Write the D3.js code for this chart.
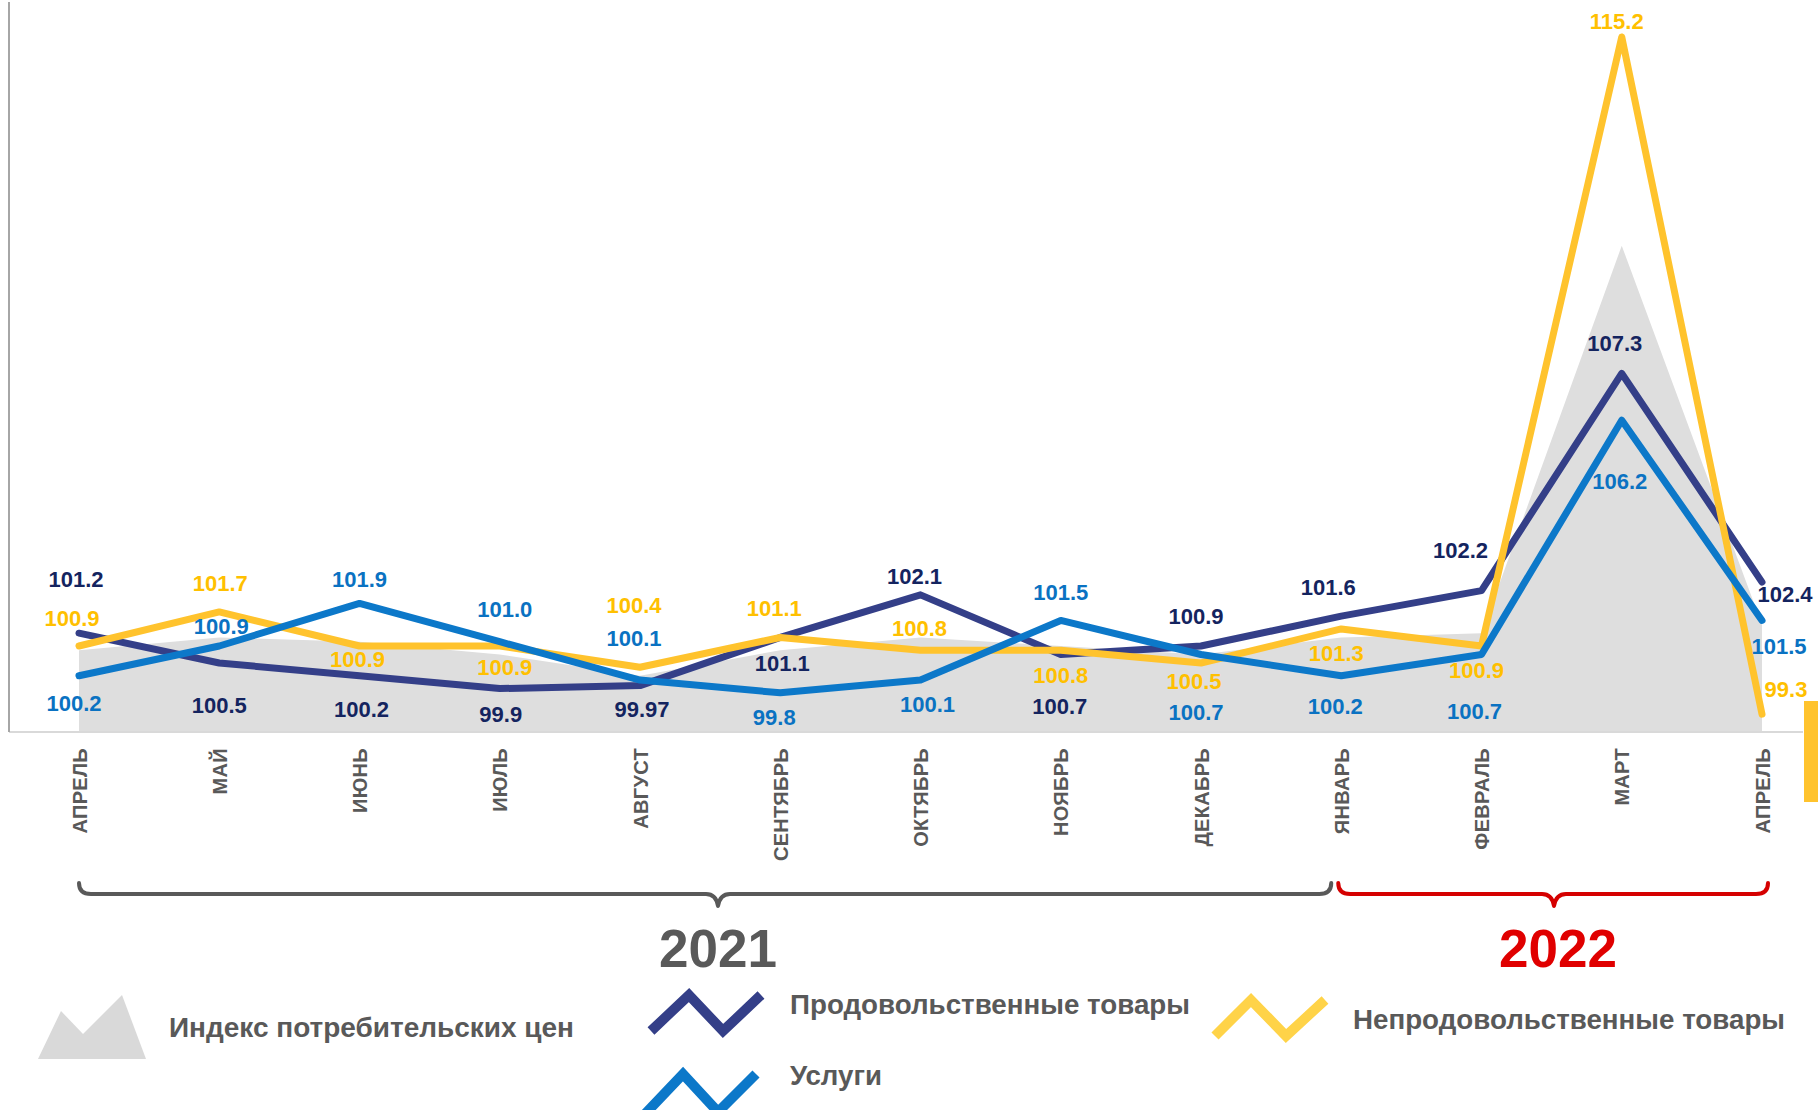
<!DOCTYPE html>
<html>
<head>
<meta charset="utf-8">
<script src="https://cdn.jsdelivr.net/npm/d3@7"></script>
<style>
  html, body { margin: 0; padding: 0; background: #fff; overflow: hidden; }
  svg { display: block; }
</style>
</head>
<body>
<svg id="chart" width="1818" height="1110"></svg>
<script>
// ---------- DATA ----------
const months = ["АПРЕЛЬ","МАЙ","ИЮНЬ","ИЮЛЬ","АВГУСТ","СЕНТЯБРЬ","ОКТЯБРЬ","НОЯБРЬ","ДЕКАБРЬ","ЯНВАРЬ","ФЕВРАЛЬ","МАРТ","АПРЕЛЬ"];
const years = ["2021", "2022"];
const cpi      = [100.8, 101.1, 101.0, 100.7, 100.2, 100.8, 101.1, 100.9, 100.7, 101.1, 101.2, 110.3, 101.4];
const food     = [101.2, 100.5, 100.2, 99.9, 99.97, 101.1, 102.1, 100.7, 100.9, 101.6, 102.2, 107.3, 102.4];
const services = [100.2, 100.9, 101.9, 101.0, 100.1, 99.8, 100.1, 101.5, 100.7, 100.2, 100.7, 106.2, 101.5];
const nonfood  = [100.9, 101.7, 100.9, 100.9, 100.4, 101.1, 100.8, 100.8, 100.5, 101.3, 100.9, 115.2, 99.3];
const seriesNames = ["Индекс потребительских  цен", "Продовольственные товары", "Услуги", "Непродовольственные товары"];

// ---------- LAYOUT (label offsets in px, relative to the point) ----------
const foodLabelDx = [-3,0,2,1,2,2,-6,-1,-5,-13,-21,-7,23];
const foodLabelDy = [-54,42,33,26,23,26,-19,52,-30,-29,-41,-30,12];
const servLabelDx = [-5,2,0,5,-6,-6,7,0,-5,-6,-7,-2,17];
const servLabelDy = [27,-20,-24,-33,-42,24,24,-28,58,30,57,61,26];
const nonfLabelDx = [-7,1,-2,5,-6,-6,-1,0,-7,-5,-5,-5,24];
const nonfLabelDy = [-28,-29,13,21,-62,-29,-22,25,18,24,24,-16,-25];

const C = {
  cpi: "#dedede",
  food: "#343f88", foodText: "#14245f",
  serv: "#0c78c9", servText: "#0a72c2",
  nonf: "#ffc32d", nonfText: "#ffc000",
  axisText: "#595959",
  red: "#e00000"
};
const FONT = "'Liberation Sans', Arial, sans-serif";
const NARROW = "'Liberation Sans Narrow', 'Arial Narrow', 'Liberation Sans', Arial, sans-serif";

const svg = d3.select("#chart");
const baseY = 732;
const x = d3.scaleLinear().domain([0, months.length - 1]).range([79, 1762]);
const y = d3.scaleLinear().domain([98.88, 115.2]).range([baseY, 37]);
const idx = d3.range(months.length);

// gray CPI area
const area = d3.area().x(i => x(i)).y0(baseY).y1(i => y(cpi[i]));
svg.append("path").attr("d", area(idx)).attr("fill", C.cpi);

// axes lines
svg.append("line").attr("x1", 9).attr("x2", 1803).attr("y1", baseY).attr("y2", baseY)
  .attr("stroke", "#d9d9d9").attr("stroke-width", 2);
svg.append("line").attr("x1", 9).attr("x2", 9).attr("y1", 2).attr("y2", baseY)
  .attr("stroke", "#a6a6a6").attr("stroke-width", 2);

// x axis (month labels)
const xAxis = d3.axisBottom(x).tickValues(idx).tickFormat(i => months[i]).tickSize(0);
const gx = svg.append("g").attr("transform", `translate(0,${baseY})`).call(xAxis);
gx.select(".domain").remove();
gx.selectAll("text")
  .attr("transform", "rotate(-90)")
  .attr("x", -16).attr("y", 0).attr("dy", "0.36em")
  .attr("text-anchor", "end")
  .attr("font-family", FONT).attr("font-weight", "bold").attr("font-size", 20)
  .attr("letter-spacing", 0.3)
  .attr("fill", C.axisText);

// lines
const line = vals => d3.line().x(i => x(i)).y(i => y(vals[i]))(idx);
[[food, C.food], [nonfood, C.nonf], [services, C.serv]].forEach(([vals, col]) => {
  svg.append("path").attr("d", line(vals)).attr("fill", "none")
    .attr("stroke", col).attr("stroke-width", 7)
    .attr("stroke-linejoin", "round").attr("stroke-linecap", "round");
});

// value labels
const fmt = v => (Math.round(v * 100) % 10 !== 0 ? v.toFixed(2) : v.toFixed(1));
function labels(vals, dxs, dys, col) {
  svg.append("g").selectAll("text").data(idx).join("text")
    .attr("x", i => x(i) + dxs[i])
    .attr("y", i => y(vals[i]) + dys[i])
    .attr("dy", "0.36em")
    .attr("text-anchor", "middle")
    .attr("font-family", FONT).attr("font-weight", "bold").attr("font-size", 22)
    .attr("fill", col)
    .text(i => fmt(vals[i]));
}
labels(food, foodLabelDx, foodLabelDy, C.foodText);
labels(services, servLabelDx, servLabelDy, C.servText);
labels(nonfood, nonfLabelDx, nonfLabelDy, C.nonfText);

// braces & years
function brace(x0, x1, xm, col) {
  const top = 883, h = 894, tip = 906, r = 12;
  const d = `M${x0},${top} Q${x0},${h} ${x0 + r},${h} L${xm - r},${h} Q${xm - 2},${h} ${xm},${tip} ` +
            `Q${xm + 2},${h} ${xm + r},${h} L${x1 - r},${h} Q${x1},${h} ${x1},${top}`;
  svg.append("path").attr("d", d).attr("fill", "none").attr("stroke", col)
    .attr("stroke-width", 4).attr("stroke-linejoin", "round").attr("stroke-linecap", "round");
}
brace(x(0), x(9) - 10, 718, "#595959");
brace(x(9) - 3, x(12) + 6, 1554, "#d50000");
svg.append("text").attr("x", 718).attr("y", 967).attr("text-anchor", "middle")
  .attr("font-family", FONT).attr("font-weight", "bold").attr("font-size", 53)
  .attr("fill", "#595959").text(years[0]);
svg.append("text").attr("x", 1558).attr("y", 967).attr("text-anchor", "middle")
  .attr("font-family", FONT).attr("font-weight", "bold").attr("font-size", 53)
  .attr("fill", C.red).text(years[1]);

// right-edge yellow block
svg.append("rect").attr("x", 1804).attr("y", 701).attr("width", 14).attr("height", 101).attr("fill", C.nonf);

// ---------- LEGEND ----------
svg.append("path").attr("d", "M38,1059 L61,1011 L83,1034 L122,995 L146,1059 Z").attr("fill", "#d9d9d9");
function zig(pts, col) {
  svg.append("polyline").attr("points", pts.map(p => p.join(",")).join(" "))
    .attr("fill", "none").attr("stroke", col).attr("stroke-width", 10)
    .attr("stroke-linejoin", "miter").attr("stroke-linecap", "butt");
}
zig([[651,1031],[689,995],[723,1031],[761,995]], C.food);
zig([[645,1114],[683,1074],[718,1112],[756,1074]], C.serv);
zig([[1215,1036],[1251,1000],[1286,1036],[1325,1000]], "#ffd348");

function legText(tx, ty, w, s) {
  svg.append("text").attr("x", tx).attr("y", ty).attr("dy", "0.35em")
    .attr("font-family", NARROW).attr("font-weight", "bold").attr("font-size", 27)
    .attr("fill", "#595959")
    .attr("textLength", w).attr("lengthAdjust", "spacingAndGlyphs")
    .text(s);
}
legText(169, 1028, 405, seriesNames[0]);
legText(790, 1005, 400, seriesNames[1]);
legText(790, 1076, 92, seriesNames[2]);
legText(1353, 1020, 432, seriesNames[3]);
</script>
</body>
</html>
